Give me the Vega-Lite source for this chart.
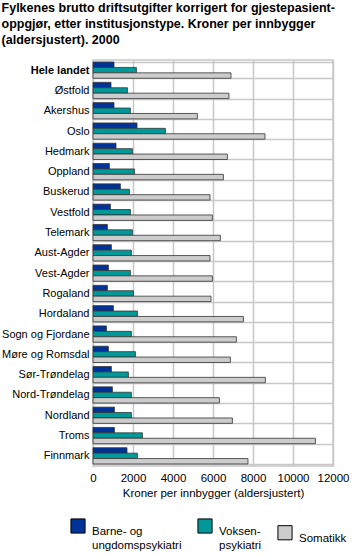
{
  "$schema": "https://vega.github.io/schema/vega-lite/v6.json",
  "width": 240,
  "height": 406,
  "padding": {"left": 1, "top": 1, "right": 5, "bottom": 5},
  "background": "white",
  "title": {
    "text": ["Fylkenes brutto driftsutgifter korrigert for gjestepasient-", "oppgjør, etter institusjonstype. Kroner per innbygger", "(aldersjustert). 2000"],
    "anchor": "start",
    "frame": "bounds",
    "font": "Liberation Sans",
    "fontSize": 12.5,
    "fontWeight": "bold",
    "lineHeight": 16,
    "color": "#000000",
    "offset": 8
  },
  "config": {
    "font": "Liberation Sans",
    "view": {"stroke": "#c8c8c8", "strokeWidth": 1.5},
    "axis": {"labelFont": "Liberation Sans", "titleFont": "Liberation Sans"}
  },
  "data": {
    "values": [
      {"fylke": "Hele landet", "type": "Barne- og|ungdomspsykiatri", "value": 1050},
      {"fylke": "Hele landet", "type": "Voksen-|psykiatri", "value": 2170},
      {"fylke": "Hele landet", "type": "Somatikk", "value": 6900},
      {"fylke": "Østfold", "type": "Barne- og|ungdomspsykiatri", "value": 900},
      {"fylke": "Østfold", "type": "Voksen-|psykiatri", "value": 1720},
      {"fylke": "Østfold", "type": "Somatikk", "value": 6800},
      {"fylke": "Akershus", "type": "Barne- og|ungdomspsykiatri", "value": 1050},
      {"fylke": "Akershus", "type": "Voksen-|psykiatri", "value": 1870},
      {"fylke": "Akershus", "type": "Somatikk", "value": 5220},
      {"fylke": "Oslo", "type": "Barne- og|ungdomspsykiatri", "value": 2200},
      {"fylke": "Oslo", "type": "Voksen-|psykiatri", "value": 3620},
      {"fylke": "Oslo", "type": "Somatikk", "value": 8600},
      {"fylke": "Hedmark", "type": "Barne- og|ungdomspsykiatri", "value": 1150},
      {"fylke": "Hedmark", "type": "Voksen-|psykiatri", "value": 1970},
      {"fylke": "Hedmark", "type": "Somatikk", "value": 6720},
      {"fylke": "Oppland", "type": "Barne- og|ungdomspsykiatri", "value": 820},
      {"fylke": "Oppland", "type": "Voksen-|psykiatri", "value": 2070},
      {"fylke": "Oppland", "type": "Somatikk", "value": 6520},
      {"fylke": "Buskerud", "type": "Barne- og|ungdomspsykiatri", "value": 1370},
      {"fylke": "Buskerud", "type": "Voksen-|psykiatri", "value": 1820},
      {"fylke": "Buskerud", "type": "Somatikk", "value": 5850},
      {"fylke": "Vestfold", "type": "Barne- og|ungdomspsykiatri", "value": 870},
      {"fylke": "Vestfold", "type": "Voksen-|psykiatri", "value": 1870},
      {"fylke": "Vestfold", "type": "Somatikk", "value": 5970},
      {"fylke": "Telemark", "type": "Barne- og|ungdomspsykiatri", "value": 720},
      {"fylke": "Telemark", "type": "Voksen-|psykiatri", "value": 1970},
      {"fylke": "Telemark", "type": "Somatikk", "value": 6370},
      {"fylke": "Aust-Agder", "type": "Barne- og|ungdomspsykiatri", "value": 920},
      {"fylke": "Aust-Agder", "type": "Voksen-|psykiatri", "value": 1920},
      {"fylke": "Aust-Agder", "type": "Somatikk", "value": 5850},
      {"fylke": "Vest-Agder", "type": "Barne- og|ungdomspsykiatri", "value": 770},
      {"fylke": "Vest-Agder", "type": "Voksen-|psykiatri", "value": 1870},
      {"fylke": "Vest-Agder", "type": "Somatikk", "value": 5970},
      {"fylke": "Rogaland", "type": "Barne- og|ungdomspsykiatri", "value": 720},
      {"fylke": "Rogaland", "type": "Voksen-|psykiatri", "value": 2020},
      {"fylke": "Rogaland", "type": "Somatikk", "value": 5900},
      {"fylke": "Hordaland", "type": "Barne- og|ungdomspsykiatri", "value": 1020},
      {"fylke": "Hordaland", "type": "Voksen-|psykiatri", "value": 2220},
      {"fylke": "Hordaland", "type": "Somatikk", "value": 7520},
      {"fylke": "Sogn og Fjordane", "type": "Barne- og|ungdomspsykiatri", "value": 670},
      {"fylke": "Sogn og Fjordane", "type": "Voksen-|psykiatri", "value": 1920},
      {"fylke": "Sogn og Fjordane", "type": "Somatikk", "value": 7170},
      {"fylke": "Møre og Romsdal", "type": "Barne- og|ungdomspsykiatri", "value": 770},
      {"fylke": "Møre og Romsdal", "type": "Voksen-|psykiatri", "value": 2120},
      {"fylke": "Møre og Romsdal", "type": "Somatikk", "value": 6870},
      {"fylke": "Sør-Trøndelag", "type": "Barne- og|ungdomspsykiatri", "value": 920},
      {"fylke": "Sør-Trøndelag", "type": "Voksen-|psykiatri", "value": 1770},
      {"fylke": "Sør-Trøndelag", "type": "Somatikk", "value": 8620},
      {"fylke": "Nord-Trøndelag", "type": "Barne- og|ungdomspsykiatri", "value": 970},
      {"fylke": "Nord-Trøndelag", "type": "Voksen-|psykiatri", "value": 1920},
      {"fylke": "Nord-Trøndelag", "type": "Somatikk", "value": 6320},
      {"fylke": "Nordland", "type": "Barne- og|ungdomspsykiatri", "value": 1070},
      {"fylke": "Nordland", "type": "Voksen-|psykiatri", "value": 1920},
      {"fylke": "Nordland", "type": "Somatikk", "value": 6970},
      {"fylke": "Troms", "type": "Barne- og|ungdomspsykiatri", "value": 1070},
      {"fylke": "Troms", "type": "Voksen-|psykiatri", "value": 2470},
      {"fylke": "Troms", "type": "Somatikk", "value": 11120},
      {"fylke": "Finnmark", "type": "Barne- og|ungdomspsykiatri", "value": 1700},
      {"fylke": "Finnmark", "type": "Voksen-|psykiatri", "value": 2220},
      {"fylke": "Finnmark", "type": "Somatikk", "value": 7750}
    ]
  },
  "mark": {"type": "bar", "stroke": "#333333", "strokeWidth": 0.8},
  "encoding": {
    "y": {
      "field": "fylke",
      "type": "nominal",
      "sort": null,
      "scale": {"paddingInner": 0.2, "paddingOuter": 0.1},
      "axis": {
        "title": null,
        "ticks": false,
        "domain": false,
        "grid": true,
        "tickBand": "extent",
        "gridColor": "#c8c8c8",
        "gridWidth": 1.5,
        "labelFontSize": 11,
        "labelColor": "#000000",
        "labelPadding": 4,
        "labelFontWeight": {"condition": {"test": "datum.value == 'Hele landet'", "value": "bold"}, "value": "normal"}
      }
    },
    "yOffset": {
      "field": "type",
      "type": "nominal",
      "sort": ["Barne- og|ungdomspsykiatri", "Voksen-|psykiatri", "Somatikk"]
    },
    "x": {
      "field": "value",
      "type": "quantitative",
      "scale": {"domain": [0, 12000], "nice": false},
      "axis": {
        "title": "Kroner per innbygger (aldersjustert)",
        "values": [0, 2000, 4000, 6000, 8000, 10000, 12000],
        "format": "d",
        "labelOverlap": false,
        "labelFlush": false,
        "ticks": false,
        "domain": false,
        "grid": true,
        "gridColor": "#c8c8c8",
        "gridWidth": 1.5,
        "labelFontSize": 11.5,
        "labelColor": "#000000",
        "labelPadding": 6,
        "titleFontSize": 11.5,
        "titleFontWeight": "normal",
        "titleColor": "#000000",
        "titlePadding": 4
      }
    },
    "color": {
      "field": "type",
      "type": "nominal",
      "scale": {
        "domain": ["Barne- og|ungdomspsykiatri", "Voksen-|psykiatri", "Somatikk"],
        "range": ["#003399", "#009999", "#cccccc"]
      },
      "legend": {
        "title": null,
        "orient": "none",
        "legendX": -23,
        "legendY": 458,
        "direction": "horizontal",
        "columns": 3,
        "columnPadding": 13,
        "symbolType": "square",
        "symbolSize": 200,
        "symbolStrokeColor": "#000000",
        "symbolStrokeWidth": 1,
        "labelFontSize": 11.5,
        "labelColor": "#000000",
        "labelExpr": "split(datum.label, '|')",
        "labelBaseline": "top",
        "labelOffset": 6
      }
    }
  }
}
